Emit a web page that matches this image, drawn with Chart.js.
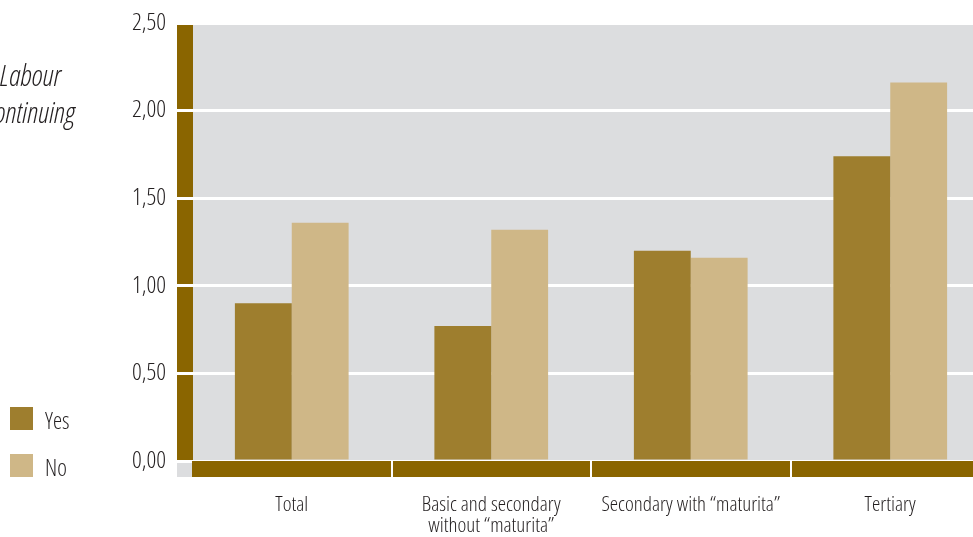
<!DOCTYPE html>
<html>
<head>
<meta charset="utf-8">
<script src="https://cdn.jsdelivr.net/npm/chart.js@4/dist/chart.umd.min.js"></script>
<style>
  html, body { margin: 0; padding: 0; background: #ffffff; overflow: hidden; }
  #wrap { position: relative; width: 990px; height: 537px; }
</style>
</head>
<body>
<div id="wrap"><canvas id="c"></canvas></div>
<script>
const categories = ["Total", ["Basic and secondary", "without \u201cmaturita\u201d"], "Secondary with \u201cmaturita\u201d", "Tertiary"];
const seriesNames = ["Yes", "No"];
const yesValues = [0.90, 0.77, 1.20, 1.74];
const noValues = [1.36, 1.32, 1.16, 2.16];
const yTicks = [0, 0.5, 1, 1.5, 2, 2.5];
const titleLines = ["Labour", "continuing"];

const FONT = '"Open Sans", "Roboto Condensed", sans-serif';
const WEIGHT = '300 condensed';
const COL_YES = '#9E7E2E';
const COL_NO = '#CFB787';
const COL_BAND = '#8A6500';
const COL_BG = '#DCDDDF';
const COL_TEXT = '#231F20';

const decor = {
  id: 'decor',
  beforeDraw(chart) {
    const ctx = chart.ctx, a = chart.chartArea, W = chart.width;
    ctx.save();
    ctx.fillStyle = COL_BG;
    ctx.fillRect(177, a.top, W - 177, a.bottom + 16 - a.top);
    ctx.fillStyle = COL_BAND;
    ctx.fillRect(177, a.top, 16, a.bottom - a.top);
    ctx.restore();
  },
  afterDatasetsDraw(chart) {
    const ctx = chart.ctx, a = chart.chartArea, W = chart.width;
    const x = chart.scales.x;
    ctx.save();
    ctx.fillStyle = COL_BAND;
    ctx.fillRect(a.left, a.bottom, W - a.left, 16);
    ctx.fillStyle = '#ffffff';
    for (let i = 1; i < categories.length; i++) {
      const bx = (x.getPixelForValue(i - 1) + x.getPixelForValue(i)) / 2;
      ctx.fillRect(Math.round(bx) - 1, a.bottom, 2, 16);
    }
    ctx.restore();
  },
  afterDraw(chart) {
    const ctx = chart.ctx;
    ctx.save();
    ctx.fillStyle = COL_TEXT;
    ctx.font = 'italic 300 condensed 29px ' + FONT;
    ctx.textBaseline = 'alphabetic';
    ctx.textAlign = 'left';
    ctx.fillText(titleLines[0], 0, 86);
    ctx.textAlign = 'right';
    ctx.fillText(titleLines[1], 75, 123);
    const items = [[seriesNames[0], COL_YES, 407], [seriesNames[1], COL_NO, 454]];
    ctx.textAlign = 'left';
    ctx.font = '300 condensed 23px ' + FONT;
    items.forEach(([t, c, y]) => {
      ctx.fillStyle = c;
      ctx.fillRect(10, y, 23, 23);
      ctx.fillStyle = COL_TEXT;
      ctx.fillText(t, 45, y + 22);
    });
    ctx.restore();
  }
};

new Chart(document.getElementById('c'), {
  type: 'bar',
  data: {
    labels: categories,
    datasets: [
      { label: seriesNames[0], data: yesValues, backgroundColor: COL_YES },
      { label: seriesNames[1], data: noValues, backgroundColor: COL_NO }
    ]
  },
  options: {
    responsive: true,
    maintainAspectRatio: false,
    animation: false,
    devicePixelRatio: 1,
    layout: { padding: { top: 23, left: 0, right: 0, bottom: 0 } },
    plugins: { legend: { display: false }, tooltip: { enabled: false } },
    datasets: { bar: { categoryPercentage: 0.57, barPercentage: 1.0 } },
    scales: {
      x: {
        grid: { display: false, drawTicks: false },
        border: { display: false },
        ticks: { color: COL_TEXT, font: { family: FONT, size: 21, weight: WEIGHT, lineHeight: 1.0 }, padding: 34, maxRotation: 0, autoSkip: false },
        afterFit(s) { s.height = 76; }
      },
      y: {
        min: 0, max: 2.5,
        afterBuildTicks(s) { s.ticks = yTicks.map(v => ({ value: v })); },
        grid: { color: '#ffffff', lineWidth: 3, tickLength: 26, drawTicks: true },
        border: { display: false },
        ticks: {
          color: COL_TEXT, font: { family: FONT, size: 24, weight: WEIGHT }, padding: 0,
          callback: v => v.toFixed(2).replace('.', ',')
        },
        afterFit(s) { s.width = 192; }
      }
    }
  },
  plugins: [decor]
});
</script>
</body>
</html>
